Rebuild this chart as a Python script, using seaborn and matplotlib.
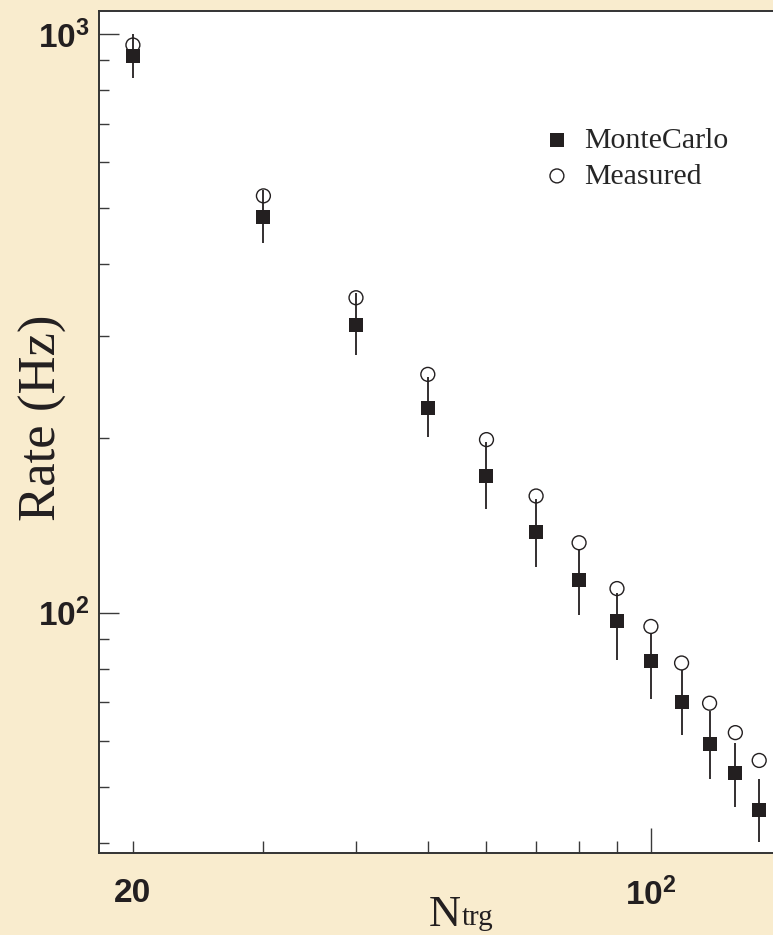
import matplotlib
matplotlib.use("Agg")
import matplotlib.pyplot as plt
import seaborn as sns
import pandas as pd

# Trigger multiplicity and rates (Hz)
ntrg = [20, 30, 40, 50, 60, 70, 80, 90, 100, 110, 120, 130, 140]
measured = [957, 525, 350, 258, 199, 159, 132, 110, 94.6, 81.8, 69.7, 62.0, 55.5]
montecarlo = [915, 483, 314, 226, 172, 138, 114, 96.5, 82.6, 70.0, 59.2, 52.8, 45.6]
mc_err_low = [77, 47, 35, 25, 21, 18, 15, 13.7, 11.8, 8.5, 7.7, 6.6, 5.5]
mc_err_high = [85, 55, 42, 29, 25, 19, 15, 11.5, 9.5, 9.4, 8.5, 6.8, 5.9]

x_minor_ticks = [20, 30, 40, 50, 60, 70, 80, 90]
x_minor_labels = ["20", "", "", "", "", "", "", ""]
x_major_ticks = [100]
x_major_labels = [r"$\mathbf{10^{2}}$"]
y_major_ticks = [100, 1000]
y_major_labels = [r"$\mathbf{10^{2}}$", r"$\mathbf{10^{3}}$"]
y_minor_ticks = [40, 50, 60, 70, 80, 90, 200, 300, 400, 500, 600, 700, 800, 900]

sns.set_theme(style="ticks")
plt.rcParams["font.family"] = ["Liberation Serif", "DejaVu Serif"]
plt.rcParams["mathtext.fontset"] = "custom"
plt.rcParams["mathtext.bf"] = "Liberation Sans:bold"
plt.rcParams["mathtext.rm"] = "Liberation Serif"
plt.rcParams["mathtext.it"] = "Liberation Serif:italic"

df = pd.DataFrame({"ntrg": ntrg, "MonteCarlo": montecarlo, "Measured": measured})

ink = "#231f20"
fig = plt.figure(figsize=(7.73, 9.35), dpi=100, facecolor="#F9ECCE")
W, H = 773, 935
x0, x1 = 99, 781.4
ytop, ybot = 10.7, 853
ax = fig.add_axes([x0 / W, (H - ybot) / H, (x1 - x0) / W, (ybot - ytop) / H])
ax.set_facecolor("white")

def ax_x(px):
    return (px - x0) / (x1 - x0)

def ax_y(py):
    return (ybot - py) / (ybot - ytop)

ax.errorbar(ntrg, montecarlo, yerr=[mc_err_low, mc_err_high], fmt="none",
            ecolor=ink, elinewidth=1.3, capsize=0, zorder=2)
sns.scatterplot(data=df, x="ntrg", y="MonteCarlo", marker="s", s=110,
                color=ink, edgecolor=ink, linewidth=0,
                label="MonteCarlo", ax=ax, zorder=3)
sns.scatterplot(data=df, x="ntrg", y="Measured", marker="o", s=100,
                facecolors="none", edgecolor=ink, linewidth=1.0,
                label="Measured", ax=ax, zorder=4)

ax.set_xscale("log")
ax.set_yscale("log")
ax.set_xlim(18, 150)
ax.set_ylim(38.4, 1097)

ax.set_xticks(x_major_ticks, x_major_labels)
ax.set_xticks(x_minor_ticks, x_minor_labels, minor=True)
ax.set_yticks(y_major_ticks, y_major_labels)
ax.set_yticks(y_minor_ticks, [""] * len(y_minor_ticks), minor=True)

tick_color = "#3a3a3a"
ax.tick_params(axis="x", which="major", direction="in", length=18, width=1.0,
               color=tick_color, pad=18, labelsize=24, labelcolor=ink)
ax.tick_params(axis="x", which="minor", direction="in", length=9, width=1.0,
               color=tick_color, pad=18, labelsize=24, labelcolor=ink)
ax.tick_params(axis="y", which="major", direction="in", length=14.4, width=1.0,
               color=tick_color, pad=7, labelsize=24, labelcolor=ink)
ax.tick_params(axis="y", which="minor", direction="in", length=7.2, width=1.0,
               color=tick_color, labelsize=24)
for lbl in ax.get_xticklabels(minor=True):
    lbl.set_fontfamily("Liberation Sans")
    lbl.set_fontweight("bold")

for side in ["left", "bottom", "top"]:
    ax.spines[side].set_color("#333333")
    ax.spines[side].set_linewidth(1.4)
ax.spines["right"].set_visible(False)

# Axis titles
ax.set_xlabel("")
ax.text(ax_x(429), ax_y(926), "N", fontsize=32, color=ink,
        ha="left", va="baseline", transform=ax.transAxes, clip_on=False)
ax.text(ax_x(462), ax_y(925), "trg", fontsize=21, color=ink,
        ha="left", va="baseline", transform=ax.transAxes, clip_on=False)
ax.set_ylabel("Rate (Hz)", fontsize=38, color=ink)
ax.yaxis.set_label_coords(ax_x(67), ax_y(418))

ax.legend(loc="upper left", bbox_to_anchor=(ax_x(542), ax_y(127)), frameon=False,
          fontsize=21.5, handlelength=1.0, handletextpad=0.4, labelspacing=0.3,
          borderpad=0, borderaxespad=0, markerscale=1.0)

fig.savefig("out.png", dpi=100, facecolor=fig.get_facecolor())
